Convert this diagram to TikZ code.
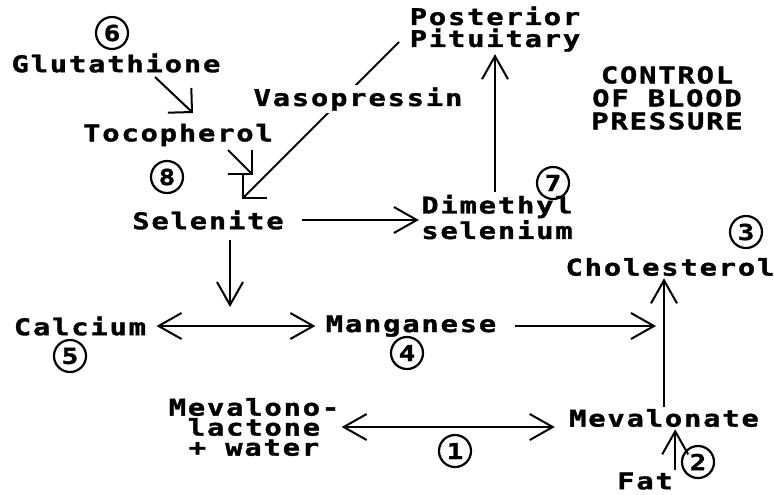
\documentclass[tikz,border=0pt]{standalone}
\usepackage{fontspec}
\newfontfamily\pixfont[FakeStretch=1.25,LetterSpace=8,FakeBold=1.5]{DejaVu Sans Mono}
\usetikzlibrary{arrows.meta}

\begin{document}
\begin{tikzpicture}[x=0.5pt,y=-0.5pt]

\tikzset{word/.style = {font=\pixfont\bfseries\fontsize{11.5}{11}\selectfont,inner sep=1pt,align=center}}
\tikzset{num/.style = {shape=circle,draw,line width=1.1pt,minimum size=16pt,inner sep=0pt,font=\pixfont\bfseries\fontsize{11}{11}\selectfont}}
\tikzset{edge/.style = {line width=1pt,-{Straight Barb[length=11.5pt,width=13pt]}}}
\tikzset{both/.style = {line width=1pt,{Straight Barb[length=11.5pt,width=13pt]}-{Straight Barb[length=11.5pt,width=13pt]}}}
\tikzset{slant/.style = {line width=1pt,-{Straight Barb[length=8.5pt,width=17pt]}}}

\useasboundingbox (0,0) rectangle (774,494);

%compounds
\node[word] (glu) at (116,63) {Glutathione};
\node[word] (toc) at (178,135) {Tocopherol};
\node[word] (sel) at (208,220) {Selenite};
\node[word] (pit) at (495,29) {Posterior\\Pituitary};
\node[word] (dim) at (497,217) {Dimethyl\\selenium};
\node[word] (chol) at (670,267) {Cholesterol};
\node[word] (calc) at (80,326) {Calcium};
\node[word] (mang) at (411,326) {Manganese};
\node[word,font=\pixfont\bfseries\fontsize{11.5}{10}\selectfont] (lac) at (254,427) {Mevalono-\\lactone\\+ water};
\node[word] (meva) at (664,418) {Mevalonate};
\node[word] (fat) at (645,481) {Fat};
\node[word,font=\pixfont\bfseries\fontsize{11.5}{11.5}\selectfont] (ctrl) at (667,98) {CONTROL\\OF BLOOD\\PRESSURE};

%circled numbers
\node[num] (n1) at (455,451) {1};
\node[num] (n2) at (698,462) {2};
\node[num] (n3) at (746,232) {3};
\node[num] (n4) at (407,353) {4};
\node[num] (n5) at (70,356) {5};
\node[num] (n6) at (112,33) {6};
\node[num] (n7) at (553,183) {7};
\node[num] (n8) at (167,177) {8};

%free ends
\coordinate (gout) at (155,77);
\coordinate (tin) at (193,113);
\coordinate (tout) at (228,150);
\coordinate (sin) at (253,175);
\coordinate (vtop) at (399,42);
\coordinate (vtip) at (242,199);
\coordinate (cm) at (230,307);

%arrows
\draw[slant] (gout) -- (tin);
\draw[slant] (tout) -- (sin);
\draw[slant] (vtop) -- (vtip);
\node[word,fill=white] (vaso) at (358,99) {Vasopressin};
\draw[edge] ([xshift=8pt]sel.east) -- (dim.west |- sel.east);
\draw[edge] (pit.south |- dim.north) -- (pit.south);
\draw[edge,shorten <=4pt] (sel.south -| cm) -- (cm);
\draw[both,shorten <=4pt,shorten >=4pt] (calc.east) -- (mang.west);
\draw[edge,shorten <=8pt,shorten >=7pt] (mang.east) -- (mang.east -| chol.south);
\draw[edge] (meva.north) -- (meva.north |- chol.south);
\draw[edge] (fat.north east) -- (fat.north east |- meva.south);
\draw[both,shorten >=6pt] (lac.east) -- (lac.east -| meva.west);

\end{tikzpicture}
\end{document}
